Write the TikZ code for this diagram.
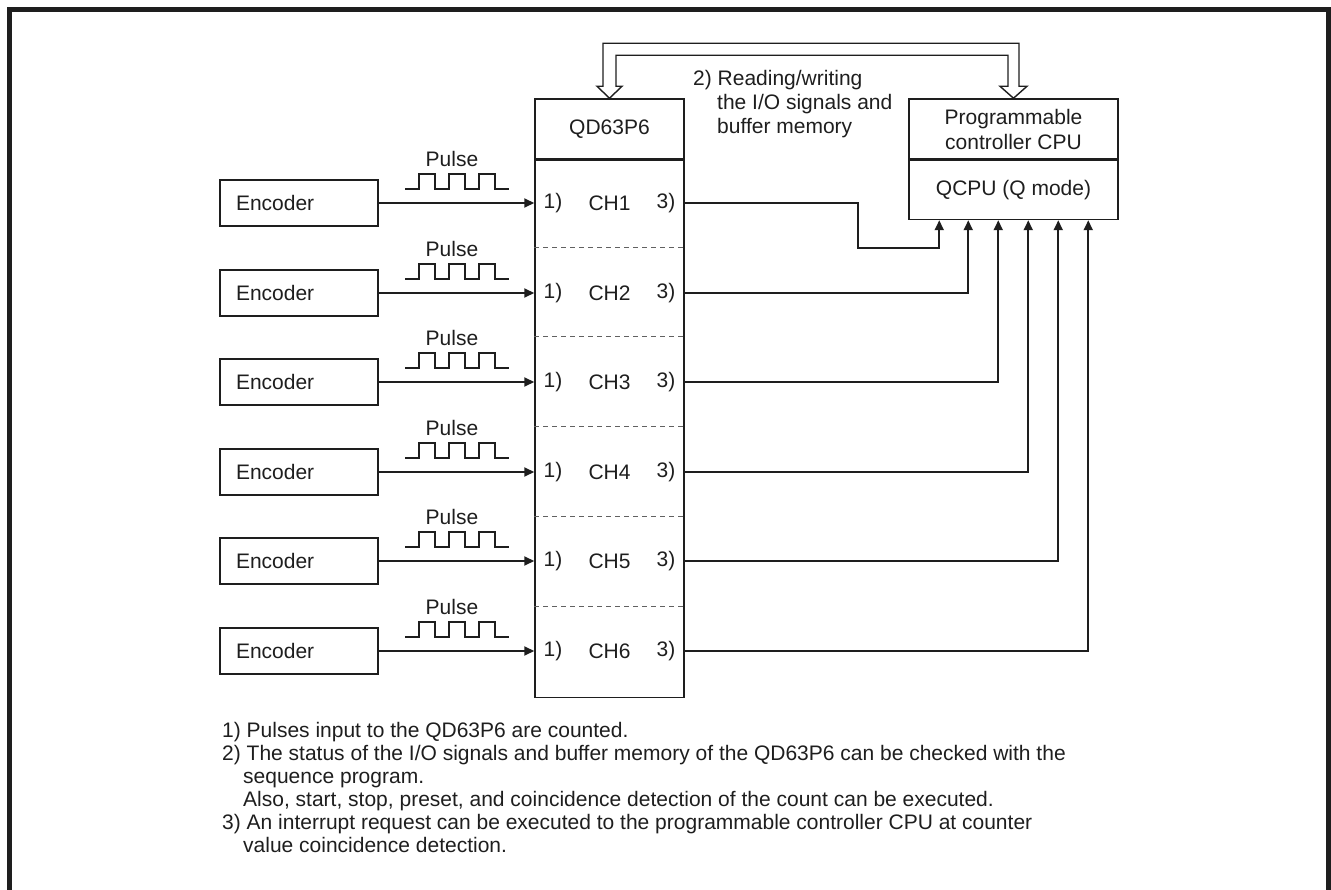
\documentclass[tikz,border=0pt]{standalone}
\usepackage{fontspec}
\setmainfont{Liberation Sans}
\usetikzlibrary{arrows.meta,calc}
\definecolor{ink}{HTML}{1E1E1E}
\begin{document}
\begin{tikzpicture}[x=1pt,y=-1pt,
  font=\fontsize{21pt}{23pt}\selectfont, text=ink,
  box/.style={draw=ink, line width=1.5pt, inner sep=0pt},
  conn/.style={draw=ink, line width=1.8pt},
  arr/.style={conn, -{Triangle[length=10pt,width=9pt]}},
  lbl/.style={inner sep=0pt},
  txt/.style={inner sep=0pt, anchor=base west},
  wave/.style={draw=ink, line width=1.3pt},
  sep/.style={draw=ink!70, line width=1pt, dash pattern=on 5pt off 4pt}]
\useasboundingbox (0,0) rectangle (1331,890);
\draw[line width=5pt, ink] (9.5,895) -- (9.5,10) -- (1328.5,10) -- (1328.5,895);

% QD63P6 module
\node[box, minimum width=149pt, minimum height=60pt] (qdhead) at (609.5,129) {QD63P6};
\node[box, minimum width=149pt, minimum height=537pt, anchor=north] (qdbody) at (qdhead.south) {};

% CPU
\node[box, minimum width=209pt, minimum height=60pt, align=center, font=\fontsize{21pt}{25pt}\selectfont] (cpuhead) at (1013.5,129) {Programmable\\controller CPU};
\node[box, minimum width=209pt, minimum height=59pt, anchor=north] (cpubody) at (cpuhead.south) {QCPU (Q mode)};

% reading/writing double arrow
\draw[draw=ink, line width=1.4pt, fill=white]
  (qdhead.north)
  -- ++(-12.5,-12) -- ++(6,0) -- ($(qdhead.north)+(-6.5,-55)$)
  -- ($(cpuhead.north)+(5.5,-55)$) -- ++(0,43) -- ++(8,0)
  -- (cpuhead.north) -- ++(-13.5,-12) -- ++(8,0)
  -- ($(cpuhead.north)+(-5.5,-43)$) -- ($(qdhead.north)+(6.5,-43)$)
  -- ++(0,31) -- ++(6,0) -- cycle;
\node[txt] (rw1) at (693,85.5) {2) Reading/writing};
\node[txt] (rw2) at (717,109.5) {the I/O signals and};
\node[txt] (rw3) at (717,133.5) {buffer memory};

% CPU input points
\foreach \i/\dx in {1/31,2/60,3/90,4/120,5/150,6/180}
  \coordinate (cin\i) at ($(cpubody.south west)+(\dx,0)$);

% channels
\foreach \i/\y in {1/203,2/293,3/382,4/472,5/561,6/651}{
  \node[box, minimum width=158pt, minimum height=46pt, text width=126pt, inner xsep=16pt, align=left] (enc\i) at (299,\y) {Encoder};
  \node[lbl] (pl\i) at (452,\y-44) {Pulse};
  \draw[wave] (405,\y-14) -- (419,\y-14) -- (419,\y-29) -- (435,\y-29) -- (435,\y-14)
    -- (449,\y-14) -- (449,\y-29) -- (465,\y-29) -- (465,\y-14)
    -- (479,\y-14) -- (479,\y-29) -- (495,\y-29) -- (495,\y-14) -- (509,\y-14);
  \draw[arr] (enc\i.east) -- (qdbody.west |- enc\i.east);
  \node[lbl] (a\i) at (553,\y) {1)};
  \node[lbl] (ch\i) at (609.5,\y) {CH\i};
  \node[lbl] (b\i) at (666,\y) {3)};
}
\foreach \y in {248,337,427,516,606}
  \draw[sep] (qdbody.west |- 0,\y) -- (qdbody.east |- 0,\y);

% outputs to CPU
\draw[arr] (qdbody.east |- enc1.east) -- (858,203) -- (858,248) -| (cin1);
\foreach \i in {2,...,6}
  \draw[arr] (qdbody.east |- enc\i.east) -| (cin\i);

% notes
\node[txt] (n1) at (222,737.5) {1) Pulses input to the QD63P6 are counted.};
\node[txt] (n2) at (222,760.5) {2) The status of the I/O signals and buffer memory of the QD63P6 can be checked with the};
\node[txt] (n3) at (243,783.5) {sequence program.};
\node[txt] (n4) at (243,806.5) {Also, start, stop, preset, and coincidence detection of the count can be executed.};
\node[txt] (n5) at (222,829.5) {3) An interrupt request can be executed to the programmable controller CPU at counter};
\node[txt] (n6) at (243,852.5) {value coincidence detection.};
\end{tikzpicture}
\end{document}
